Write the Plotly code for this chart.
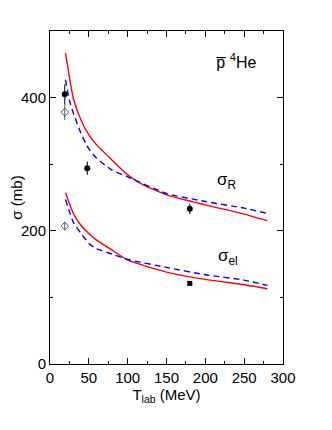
import plotly.graph_objects as go

# model curves (T_lab in MeV, sigma in mb)
t_red_r = [20, 30, 40, 50, 60, 80, 100, 120, 150, 200, 250, 280]
s_red_r = [467, 399, 366, 344, 329, 306, 284, 269, 254, 239, 225, 215]
t_blue_r = [20, 25, 30, 40, 50, 60, 80, 100, 150, 200, 250, 280]
s_blue_r = [427, 396, 377, 346, 323, 309, 291, 281, 256, 244, 234, 226]

t_red_el = [20, 30, 40, 50, 60, 80, 100, 150, 200, 250, 280]
s_red_el = [257, 226, 208, 196, 186, 171, 156, 138, 127, 119, 113]
t_blue_el = [20, 30, 40, 50, 60, 80, 100, 150, 200, 250, 280]
s_blue_el = [247, 213, 196, 181, 173, 165, 157, 145, 134, 126, 118]

# experimental points
t_exp_r = [19, 48, 180]
s_exp_r = [405, 294, 233]
e_exp_r = [15, 10, 8]
t_open = [19, 19]
s_open = [378, 207]
e_open = [12, 6]
t_exp_el = [180]
s_exp_el = [121]

fig = go.Figure()
fig.add_trace(go.Scatter(x=t_red_r, y=s_red_r, mode='lines', line=dict(color='#ff0000', width=1.4, shape='spline', smoothing=0.5)))
fig.add_trace(go.Scatter(x=t_blue_r, y=s_blue_r, mode='lines', line=dict(color='#0000ff', width=1.4, dash='6px,4px', shape='spline', smoothing=0.5)))
fig.add_trace(go.Scatter(x=t_red_el, y=s_red_el, mode='lines', line=dict(color='#ff0000', width=1.4, shape='spline', smoothing=0.5)))
fig.add_trace(go.Scatter(x=t_blue_el, y=s_blue_el, mode='lines', line=dict(color='#0000ff', width=1.4, dash='6px,4px', shape='spline', smoothing=0.5)))
fig.add_trace(go.Scatter(x=t_exp_r, y=s_exp_r, mode='markers',
                         error_y=dict(type='data', array=e_exp_r, color='black', thickness=1, width=0),
                         marker=dict(symbol='circle', size=6, color='black')))
fig.add_trace(go.Scatter(x=t_open, y=s_open, mode='markers',
                         error_y=dict(type='data', array=e_open, color='#555555', thickness=1, width=0),
                         marker=dict(symbol='diamond-open', size=6, color='#555555', line=dict(width=1))))
fig.add_trace(go.Scatter(x=t_exp_el, y=s_exp_el, mode='markers',
                         marker=dict(symbol='square', size=5, color='black')))

font = dict(family='Liberation Sans, Arial, sans-serif', size=15, color='black')
axis = dict(showline=True, linecolor='black', linewidth=1, mirror='ticks', ticks='inside',
            ticklen=6, tickcolor='black', showgrid=False, zeroline=False,
            tickfont=font, automargin=False)
fig.update_xaxes(range=[0, 300], dtick=50, minor=dict(dtick=25, ticks='inside', ticklen=3, tickcolor='black'),
                 title=dict(text='T<sub>lab</sub> (MeV)', font=font, standoff=0), **axis)
fig.update_yaxes(range=[0, 500], dtick=200, minor=dict(dtick=100, ticks='inside', ticklen=3, tickcolor='black'),
                 title=dict(text='σ (mb)', font=font, standoff=4), **axis)

fig.add_annotation(x=240, y=455, text='p\u0305 <sup>4</sup>He', showarrow=False, font=dict(family=font['family'], size=16))
fig.add_annotation(x=228, y=275, text='σ<sub>R</sub>', showarrow=False, font=dict(family=font['family'], size=17))
fig.add_annotation(x=229, y=160, text='σ<sub>el</sub>', showarrow=False, font=dict(family=font['family'], size=17))

fig.update_layout(width=332, height=430, showlegend=False, plot_bgcolor='white', paper_bgcolor='white',
                  margin=dict(l=42, r=57, t=23, b=74), font=font)
fig.write_html("out.html")
